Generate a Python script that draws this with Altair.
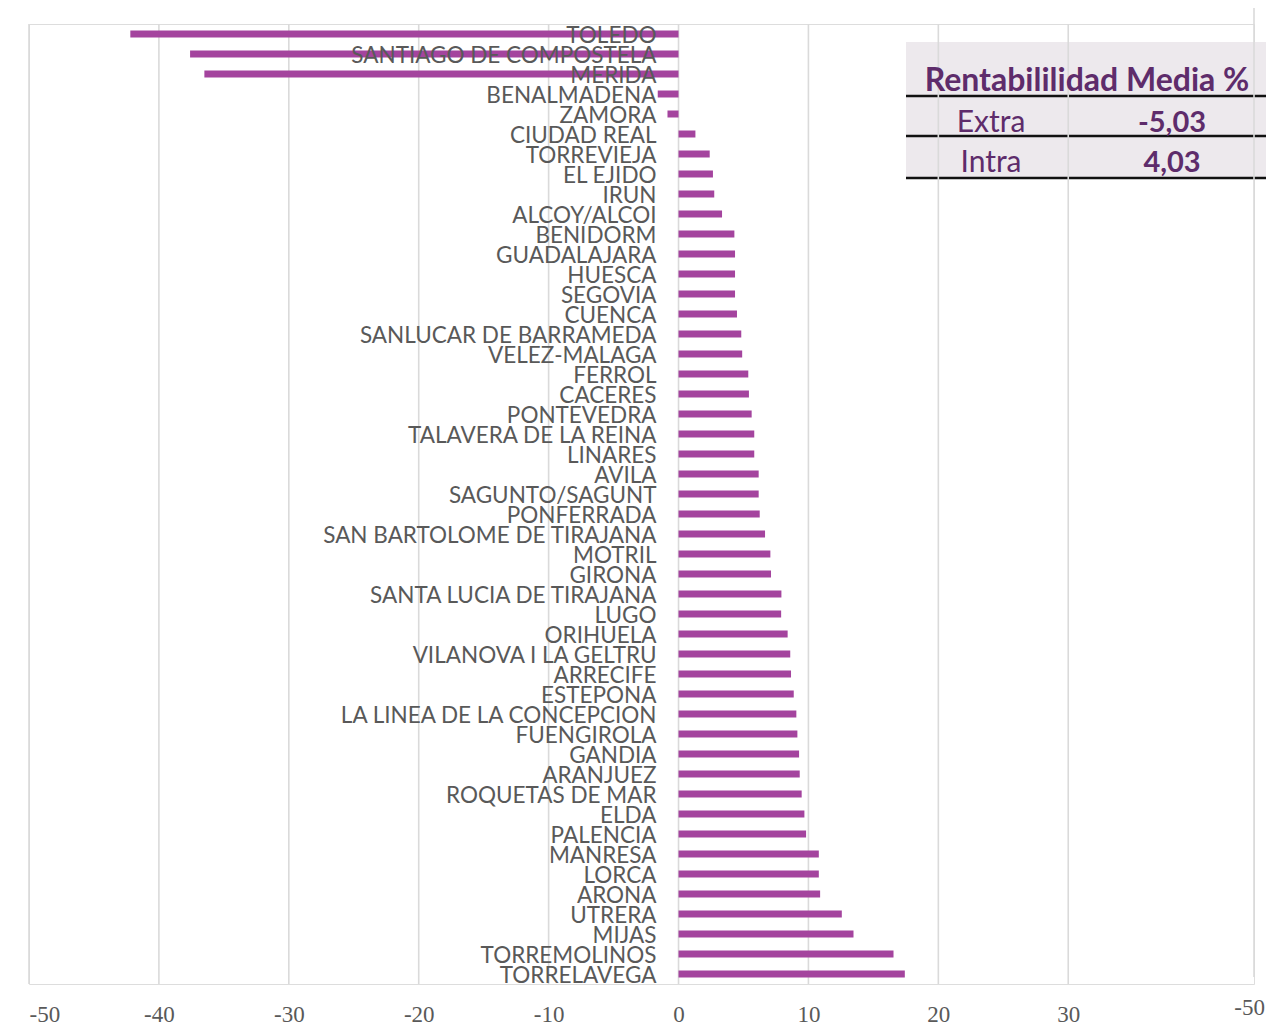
import altair as alt
import pandas as pd

cities = [
    "TOLEDO", "SANTIAGO DE COMPOSTELA", "MERIDA", "BENALMADENA", "ZAMORA",
    "CIUDAD REAL", "TORREVIEJA", "EL EJIDO", "IRUN", "ALCOY/ALCOI",
    "BENIDORM", "GUADALAJARA", "HUESCA", "SEGOVIA", "CUENCA",
    "SANLUCAR DE BARRAMEDA", "VELEZ-MALAGA", "FERROL", "CACERES", "PONTEVEDRA",
    "TALAVERA DE LA REINA", "LINARES", "AVILA", "SAGUNTO/SAGUNT", "PONFERRADA",
    "SAN BARTOLOME DE TIRAJANA", "MOTRIL", "GIRONA", "SANTA LUCIA DE TIRAJANA", "LUGO",
    "ORIHUELA", "VILANOVA I LA GELTRU", "ARRECIFE", "ESTEPONA", "LA LINEA DE LA CONCEPCION",
    "FUENGIROLA", "GANDIA", "ARANJUEZ", "ROQUETAS DE MAR", "ELDA",
    "PALENCIA", "MANRESA", "LORCA", "ARONA", "UTRERA",
    "MIJAS", "TORREMOLINOS", "TORRELAVEGA",
]
values = [
    -42.2, -37.6, -36.5, -1.6, -0.85,
    1.3, 2.4, 2.65, 2.75, 3.35,
    4.3, 4.35, 4.35, 4.35, 4.5,
    4.83, 4.9, 5.37, 5.42, 5.63,
    5.83, 5.83, 6.17, 6.17, 6.25,
    6.66, 7.07, 7.12, 7.92, 7.9,
    8.4, 8.6, 8.66, 8.87, 9.07,
    9.15, 9.28, 9.33, 9.48, 9.69,
    9.82, 10.8, 10.8, 10.9, 12.57,
    13.47, 16.55, 17.42,
]
tick_values = [-50, -40, -30, -20, -10, 0, 10, 20, 30]
extra_tick_value = 44.3
extra_tick_label = "-50"

table_title = "Rentabililidad Media %"
table_rows = ["Extra", "Intra"]
table_values = ["-5,03", "4,03"]

df = pd.DataFrame({"city": cities, "value": values})
grid_df = pd.DataFrame({"g": tick_values})

W, H = 1225, 960
DOMAIN = [-50, 44.3]
BAR = "#A4449E"
GRID = "#DADADA"
LABEL = "#595959"
PURPLE = "#5E2C6B"

xscale = alt.Scale(domain=DOMAIN, nice=False, zero=False)
yscale = alt.Scale(domain=cities, paddingInner=0.65, paddingOuter=0.325)

TL, TR = 877, 1237

# table background
table_bg = alt.Chart(pd.DataFrame({"a": [0]})).mark_rect(color="#EDE9ED").encode(
    x=alt.value(TL), x2=alt.value(TR), y=alt.value(18), y2=alt.value(154)
)
table_lines = alt.Chart(pd.DataFrame({"yy": [72, 112, 154]})).mark_rule(
    color="#111111", strokeWidth=2.5
).encode(x=alt.value(TL), x2=alt.value(TR), y=alt.Y("yy:Q", scale=None))

grid = alt.Chart(grid_df).mark_rule(color=GRID, strokeWidth=1.6).encode(
    x=alt.X("g:Q", scale=xscale,
            axis=alt.Axis(values=tick_values, grid=False, domain=False, ticks=False,
                          labelFont="Liberation Sans Narrow", labelFontSize=23,
                          labelColor=LABEL, labelPadding=19, title=None,
                          labelExpr="toString(datum.value)")),
    y=alt.value(0), y2=alt.value(H),
)
extra_grid = alt.Chart(pd.DataFrame({"g": [extra_tick_value]})).mark_rule(
    color=GRID, strokeWidth=1.6
).encode(x=alt.X("g:Q", scale=xscale), y=alt.value(-16), y2=alt.value(953))
extra_label = alt.Chart(pd.DataFrame({"g": [extra_tick_value], "t": [extra_tick_label]})).mark_text(
    font="Liberation Sans Narrow", fontSize=23, color=LABEL, baseline="middle", align="right", dx=11
).encode(x=alt.X("g:Q", scale=xscale), y=alt.value(984), text="t:N")

title_df = pd.DataFrame({"t": [table_title]})
table_title_mark = alt.Chart(title_df).mark_text(
    font="Lato", fontWeight="bold", fontSize=32, color=PURPLE, baseline="middle", align="center"
).encode(x=alt.value(1058), y=alt.value(57), text="t:N")

rows_df = pd.DataFrame({"name": table_rows, "val": table_values, "yy": [99, 139]})
table_names = alt.Chart(rows_df).mark_text(
    font="Lato", fontSize=30, color=PURPLE, baseline="middle", align="center"
).encode(x=alt.value(962), y=alt.Y("yy:Q", scale=None), text="name:N")
table_vals = alt.Chart(rows_df).mark_text(
    font="Lato", fontWeight="bold", fontSize=29, color=PURPLE, baseline="middle", align="center"
).encode(x=alt.value(1143), y=alt.Y("yy:Q", scale=None), text="val:N")

bars = alt.Chart(df).mark_bar(color=BAR).encode(
    x=alt.X("value:Q", scale=xscale),
    x2=alt.datum(0),
    y=alt.Y("city:N", scale=yscale, sort=cities, axis=None),
)
labels = alt.Chart(df).mark_text(
    font="Lato", fontSize=22.5, color=LABEL, align="right", baseline="middle", dx=-22, dy=1.5
).encode(
    x=alt.datum(0),
    y=alt.Y("city:N", scale=yscale, sort=cities, axis=None),
    text="city:N",
)

chart = alt.layer(
    table_bg, table_lines, grid, extra_grid, extra_label,
    table_title_mark, table_names, table_vals, bars, labels
).properties(
    width=W, height=H,
    autosize=alt.AutoSizeParams(type="none"),
    padding={"left": 21, "top": 16, "right": 12, "bottom": 44},
).configure_view(stroke=None).configure(background="white")

chart.save("out.html", embed_options={"renderer": "svg", "actions": False})
